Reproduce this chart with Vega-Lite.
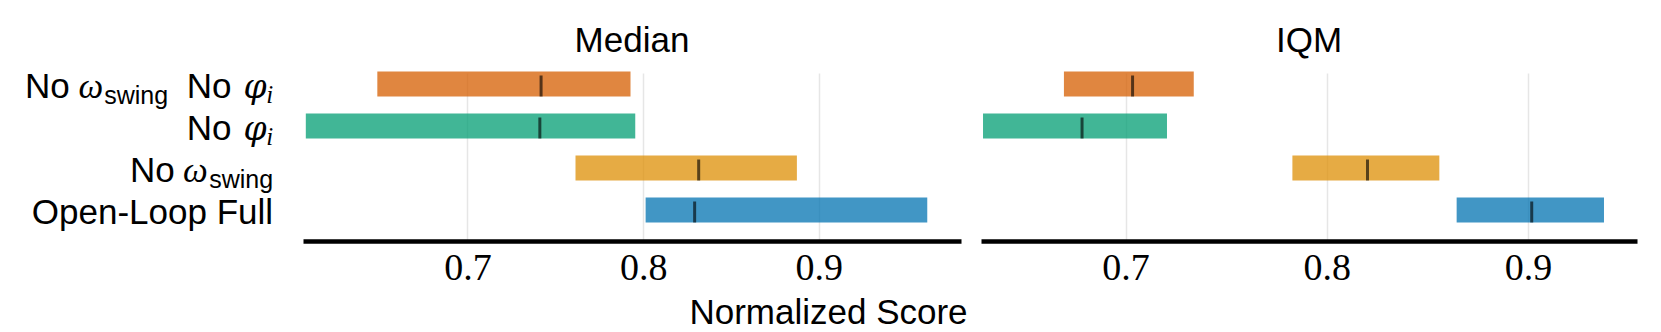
{
  "$schema": "https://vega.github.io/schema/vega-lite/v6.json",
  "background": "white",
  "padding": {"left": 25, "top": 24, "right": 24, "bottom": 0},
  "bounds": "flush",
  "spacing": 20,
  "config": {
    "view": {"stroke": null},
    "title": {"font": "Liberation Sans", "fontSize": 35, "fontWeight": "normal", "color": "black", "baseline": "alphabetic", "offset": 0, "anchor": "middle"},
    "axis": {"domainColor": "black", "domainWidth": 4.5, "ticks": false, "tickSize": 0, "labelFont": "Liberation Serif", "labelFontSize": 38, "labelColor": "black", "labelPadding": 8, "grid": true, "gridColor": "#e6e6e6", "gridWidth": 1.5, "offset": 10, "titleFont": "Liberation Sans", "titleFontSize": 35, "titleFontWeight": "normal", "titleColor": "black"}
  },
  "data": {"values": [
    {"metric": "Median", "method": "No ω_swing No φ_i", "lo": 0.6487, "hi": 0.7928, "pt": 0.7419},
    {"metric": "Median", "method": "No φ_i", "lo": 0.6080, "hi": 0.7955, "pt": 0.7412},
    {"metric": "Median", "method": "No ω_swing", "lo": 0.7615, "hi": 0.8875, "pt": 0.8316},
    {"metric": "Median", "method": "Open-Loop Full", "lo": 0.8014, "hi": 0.9617, "pt": 0.8293},
    {"metric": "IQM", "method": "No ω_swing No φ_i", "lo": 0.6694, "hi": 0.7339, "pt": 0.7035},
    {"metric": "IQM", "method": "No φ_i", "lo": 0.6292, "hi": 0.7206, "pt": 0.6784},
    {"metric": "IQM", "method": "No ω_swing", "lo": 0.7829, "hi": 0.8559, "pt": 0.8202},
    {"metric": "IQM", "method": "Open-Loop Full", "lo": 0.8645, "hi": 0.9377, "pt": 0.9018}
  ]},
  "hconcat": [
    {
      "width": 658,
      "height": 168,
      "title": {"text": "Median"},
      "transform": [{"filter": "datum.metric === 'Median'"}],
      "encoding": {
        "y": {"field": "method", "type": "nominal", "sort": ["No ω_swing No φ_i", "No φ_i", "No ω_swing", "Open-Loop Full"], "scale": {"paddingInner": 0.4, "paddingOuter": 0.2}, "axis": null}
      },
      "layer": [
        {
          "mark": {"type": "bar", "opacity": 0.75},
          "encoding": {
            "x": {"field": "lo", "type": "quantitative", "scale": {"domain": [0.6064, 0.9809], "nice": false, "zero": false}, "axis": {"values": [0.7, 0.8, 0.9], "format": ".1f", "title": "Normalized Score", "titleX": 525, "titleY": 82, "titleBaseline": "alphabetic", "titleAlign": "center"}},
            "x2": {"field": "hi"},
            "color": {"field": "method", "type": "nominal", "scale": {"domain": ["No ω_swing No φ_i", "No φ_i", "No ω_swing", "Open-Loop Full"], "range": ["#D55E00", "#029E73", "#DE8F05", "#0173B2"]}, "legend": null}
          }
        },
        {
          "mark": {"type": "tick", "orient": "vertical", "size": 21, "thickness": 3, "color": "black", "opacity": 0.62, "yOffset": 2},
          "encoding": {"x": {"field": "pt", "type": "quantitative"}}
        },
        {
          "transform": [{"filter": {"field": "method", "oneOf": ["No ω_swing No φ_i", "No φ_i"]}}],
          "mark": {"type": "text", "text": "i", "font": "Liberation Serif", "fontStyle": "italic", "fontSize": 25, "align": "right", "baseline": "alphabetic", "dx": -29.9, "dy": 19, "color": "black"},
          "encoding": {"x": {"datum": 0.6064, "type": "quantitative"}}
        },
        {
          "transform": [{"filter": {"field": "method", "oneOf": ["No ω_swing No φ_i", "No φ_i"]}}],
          "mark": {"type": "text", "text": "φ", "font": "DejaVu Serif", "fontStyle": "italic", "fontSize": 33, "align": "right", "baseline": "alphabetic", "dx": -36.5, "dy": 14, "color": "black"},
          "encoding": {"x": {"datum": 0.6064, "type": "quantitative"}}
        },
        {
          "transform": [{"filter": {"field": "method", "oneOf": ["No ω_swing No φ_i", "No φ_i"]}}],
          "mark": {"type": "text", "text": "No", "font": "Liberation Sans", "fontSize": 35, "align": "right", "baseline": "alphabetic", "dx": -71.5, "dy": 14, "color": "black"},
          "encoding": {"x": {"datum": 0.6064, "type": "quantitative"}}
        },
        {
          "transform": [{"filter": {"field": "method", "equal": "No ω_swing"}}],
          "mark": {"type": "text", "text": "swing", "font": "Liberation Sans", "fontSize": 25, "align": "right", "baseline": "alphabetic", "dx": -29.9, "dy": 20, "color": "black"},
          "encoding": {"x": {"datum": 0.6064, "type": "quantitative"}}
        },
        {
          "transform": [{"filter": {"field": "method", "equal": "No ω_swing"}}],
          "mark": {"type": "text", "text": "ω", "font": "Liberation Serif", "fontStyle": "italic", "fontSize": 35, "align": "right", "baseline": "alphabetic", "dx": -95.2, "dy": 14, "color": "black"},
          "encoding": {"x": {"datum": 0.6064, "type": "quantitative"}}
        },
        {
          "transform": [{"filter": {"field": "method", "equal": "No ω_swing"}}],
          "mark": {"type": "text", "text": "No", "font": "Liberation Sans", "fontSize": 35, "align": "right", "baseline": "alphabetic", "dx": -128.2, "dy": 14, "color": "black"},
          "encoding": {"x": {"datum": 0.6064, "type": "quantitative"}}
        },
        {
          "transform": [{"filter": {"field": "method", "equal": "No ω_swing No φ_i"}}],
          "mark": {"type": "text", "text": "swing", "font": "Liberation Sans", "fontSize": 25, "align": "right", "baseline": "alphabetic", "dx": -134.9, "dy": 20, "color": "black"},
          "encoding": {"x": {"datum": 0.6064, "type": "quantitative"}}
        },
        {
          "transform": [{"filter": {"field": "method", "equal": "No ω_swing No φ_i"}}],
          "mark": {"type": "text", "text": "ω", "font": "Liberation Serif", "fontStyle": "italic", "fontSize": 35, "align": "right", "baseline": "alphabetic", "dx": -199.9, "dy": 14, "color": "black"},
          "encoding": {"x": {"datum": 0.6064, "type": "quantitative"}}
        },
        {
          "transform": [{"filter": {"field": "method", "equal": "No ω_swing No φ_i"}}],
          "mark": {"type": "text", "text": "No", "font": "Liberation Sans", "fontSize": 35, "align": "right", "baseline": "alphabetic", "dx": -233.2, "dy": 14, "color": "black"},
          "encoding": {"x": {"datum": 0.6064, "type": "quantitative"}}
        },
        {
          "transform": [{"filter": {"field": "method", "equal": "Open-Loop Full"}}],
          "mark": {"type": "text", "text": "Open-Loop Full", "font": "Liberation Sans", "fontSize": 35, "align": "right", "baseline": "alphabetic", "dx": -29.9, "dy": 14, "color": "black"},
          "encoding": {"x": {"datum": 0.6064, "type": "quantitative"}}
        }
      ]
    },
    {
      "width": 656,
      "height": 168,
      "title": {"text": "IQM"},
      "transform": [{"filter": "datum.metric === 'IQM'"}],
      "encoding": {
        "y": {"field": "method", "type": "nominal", "sort": ["No ω_swing No φ_i", "No φ_i", "No ω_swing", "Open-Loop Full"], "scale": {"paddingInner": 0.4, "paddingOuter": 0.2}, "axis": null}
      },
      "layer": [
        {
          "mark": {"type": "bar", "opacity": 0.75},
          "encoding": {
            "x": {"field": "lo", "type": "quantitative", "scale": {"domain": [0.6282, 0.9541], "nice": false, "zero": false}, "axis": {"values": [0.7, 0.8, 0.9], "format": ".1f", "title": null}},
            "x2": {"field": "hi"},
            "color": {"field": "method", "type": "nominal", "scale": {"domain": ["No ω_swing No φ_i", "No φ_i", "No ω_swing", "Open-Loop Full"], "range": ["#D55E00", "#029E73", "#DE8F05", "#0173B2"]}, "legend": null}
          }
        },
        {
          "mark": {"type": "tick", "orient": "vertical", "size": 21, "thickness": 3, "color": "black", "opacity": 0.62, "yOffset": 2},
          "encoding": {"x": {"field": "pt", "type": "quantitative"}}
        }
      ]
    }
  ]
}
